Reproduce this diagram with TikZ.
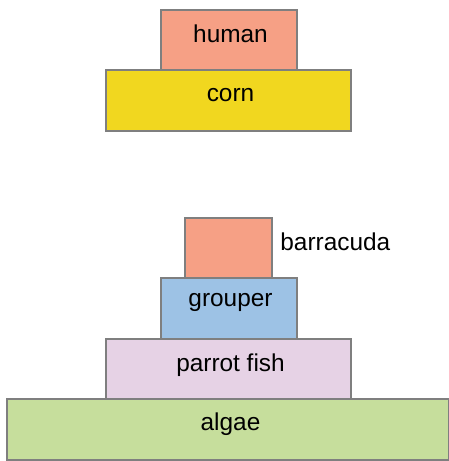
\documentclass[tikz,border=0pt]{standalone}
\usepackage{fontspec}
\setmainfont{Liberation Sans}
\usepackage{tikz}
\definecolor{salmon}{HTML}{F6A085}
\definecolor{cornyellow}{HTML}{F1D71F}
\definecolor{groupblue}{HTML}{9DC2E5}
\definecolor{parrotpink}{HTML}{E6D2E5}
\definecolor{algaegreen}{HTML}{C6DE9C}
\definecolor{edgegray}{HTML}{7F7F7F}
\tikzset{
  level/.style={draw=edgegray, line width=0.6pt},
  lbl/.style={anchor=base, inner sep=0pt, font=\fontsize{12.2}{14}\selectfont}
}

\begin{document}
\begin{tikzpicture}[x=0.5pt,y=-0.5pt]
  \useasboundingbox (0,0) rectangle (449,461);
  % land chain
  \filldraw[level, fill=salmon] (161,10) rectangle (297,70);
  \filldraw[level, fill=cornyellow] (106,70) rectangle (351,131);
  \node[lbl] (human) at (230.5,42.7) {human};
  \node[lbl] (corn) at (230.5,101.7) {corn};
  % reef chain
  \filldraw[level, fill=salmon] (185,218) rectangle (272,278);
  \filldraw[level, fill=groupblue] (161,278) rectangle (297,339);
  \filldraw[level, fill=parrotpink] (106,339) rectangle (351,399);
  \filldraw[level, fill=algaegreen] (7,399) rectangle (449,460);
  \node[lbl, anchor=base west] (barracuda) at (280,250) {barracuda};
  \node[lbl] (grouper) at (230.5,306.7) {grouper};
  \node[lbl] (parrot) at (230.5,371.7) {parrot fish};
  \node[lbl] (algae) at (230.5,430) {algae};
\end{tikzpicture}
\end{document}
